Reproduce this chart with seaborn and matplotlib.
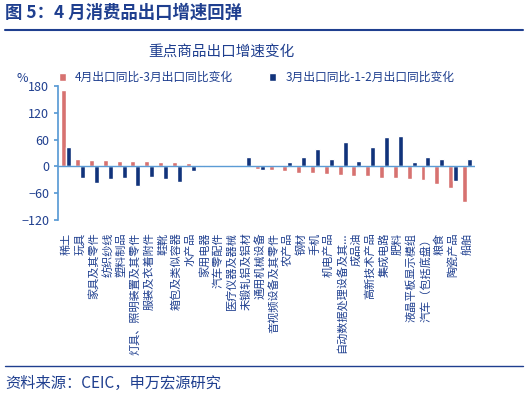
import seaborn as sns
import numpy as np
import pandas as pd
import matplotlib.pyplot as plt

categories = ['稀土', '玩具', '家具及其零件', '纺织纱线', '塑料制品', '灯具、照明装置及其零件',
              '服装及衣着附件', '鞋靴', '箱包及类似容器', '水产品', '家用电器', '汽车零配件',
              '医疗仪器及器械', '未锻轧铝及铝材', '通用机械设备', '音视频设备及其零件', '农产品',
              '钢材', '手机', '机电产品', '自动数据处理设备及其...', '成品油', '高新技术产品',
              '集成电路', '肥料', '液晶平板显示模组', '汽车（包括底盘）', '粮食', '陶瓷产品', '船舶']
apr_vs_mar = [170, 17, 15, 14, 13, 12, 12, 10, 10, 8, 4, 1, 0, -1, -6, -9, -11, -14, -14, -16,
              -20, -21, -22, -25, -26, -28, -31, -39, -48, -80]
mar_vs_janfeb = [44, -27, -38, -28, -25, -43, -24, -29, -34, -10, -1, 0, 3, 21, -8, 2, 9, 21, 40, 17,
                 55, 13, 43, 66, 69, 10, 20, 17, -32, 16]
s1 = '4月出口同比-3月出口同比变化'
s2 = '3月出口同比-1-2月出口同比变化'

df = pd.DataFrame({'cat': categories, s1: apr_vs_mar, s2: mar_vs_janfeb})
df = df.melt(id_vars='cat', var_name='series', value_name='val')

sns.set_theme(style='white')
plt.rcParams['font.family'] = ['Noto Sans CJK SC', 'DejaVu Sans']
blue_txt = '#1F3F8F'

fig = plt.figure(figsize=(5.28, 4.0), dpi=100)
ax = fig.add_axes([0.11, 0.45, 0.79, 0.335])
sns.barplot(data=df, x='cat', y='val', hue='series', palette=['#E8625F', '#002D8C'],
            width=0.72, ax=ax, legend=True)
ax.set_ylim(-120, 180)
ax.set_yticks(range(-120, 181, 60))
ax.set_xlim(-0.6, len(categories) - 0.4)
ax.set_xlabel('')
ax.set_ylabel('')
ax.axhline(0, color='#5B9BD5', lw=1)
for side in ['top', 'right', 'bottom']:
    ax.spines[side].set_visible(False)
ax.spines['left'].set_color('#5B9BD5')
ax.tick_params(axis='y', colors=blue_txt, labelsize=9, left=True, length=3, color='#5B9BD5')
ax.set_xticks(range(len(categories)))
ax.set_xticklabels(categories, rotation=90, fontsize=8, color=blue_txt)
ax.tick_params(axis='x', pad=3)
ax.legend(loc='lower left', bbox_to_anchor=(-0.01, 0.98), ncol=2, frameon=False,
          fontsize=8.5, handlelength=0.6, handleheight=0.6, columnspacing=3,
          labelcolor=blue_txt, borderaxespad=0)
ax.text(-0.1, 1.03, '%', transform=ax.transAxes, fontsize=9, color=blue_txt)
fig.text(0.42, 0.86, '重点商品出口增速变化', fontsize=10.5, color=blue_txt, ha='center')

fig.text(0.01, 0.955, '图 5：4 月消费品出口增速回弹', fontsize=12.5, fontweight='bold', color='#1F3F8F')
fig.add_artist(plt.Line2D([0.01, 0.99], [0.925, 0.925], color='#1F3F8F', lw=1.5))
fig.add_artist(plt.Line2D([0.01, 0.99], [0.085, 0.085], color='#1F3F8F', lw=1))
fig.text(0.01, 0.03, '资料来源：CEIC，申万宏源研究', fontsize=11, color='#1F3F8F')

fig.savefig('out.png', dpi=100)
